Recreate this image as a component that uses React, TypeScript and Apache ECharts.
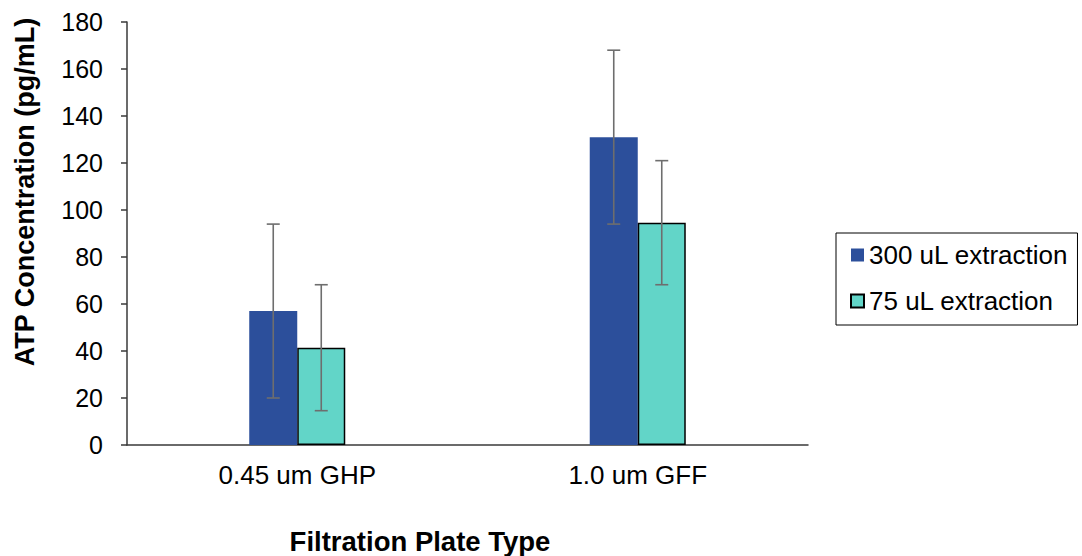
import React, { useEffect, useRef } from "react";
import * as echarts from "echarts";

// ATP concentration by filtration plate type, mean ± SD
const categories = ["0.45 um GHP", "1.0 um GFF"];
const seriesNames = ["300 uL extraction", "75 uL extraction"];
const mean300 = [57, 131];
const sd300 = [37, 37];
const mean75 = [41.4, 94.6];
const sd75 = [26.8, 26.4];
const yTicks = { min: 0, max: 180, interval: 20 };

const NAVY = "#2c4f9b";
const TEAL = "#62d5c8";
const FONT = "'Liberation Sans', Arial, Helvetica, sans-serif";
const BAR_FRACTION = 0.141;

function errorSeries(means: number[], sds: number[], side: number) {
  return {
    type: "custom",
    z: 10,
    silent: true,
    data: means.map((m, i) => [i, m - sds[i], m + sds[i]]),
    renderItem: (_params: any, api: any) => {
      const idx = api.value(0);
      const lo = api.coord([idx, api.value(1)]);
      const hi = api.coord([idx, api.value(2)]);
      const band = api.size([1, 0])[0];
      const x = lo[0] + (side * band * BAR_FRACTION) / 2;
      const cap = 6.5;
      const style = { stroke: "#6e6e6e", lineWidth: 1.6 };
      return {
        type: "group",
        children: [
          { type: "line", shape: { x1: x, y1: lo[1], x2: x, y2: hi[1] }, style },
          { type: "line", shape: { x1: x - cap, y1: hi[1], x2: x + cap, y2: hi[1] }, style },
          { type: "line", shape: { x1: x - cap, y1: lo[1], x2: x + cap, y2: lo[1] }, style },
        ],
      };
    },
  };
}

export default function App() {
  const ref = useRef<HTMLDivElement>(null);

  useEffect(() => {
    if (!ref.current) return;
    const chart = echarts.init(ref.current, undefined, { renderer: "svg" });
    chart.setOption({
      animation: false,
      backgroundColor: "#ffffff",
      grid: { left: 127, right: 274, top: 22, bottom: 111, containLabel: false },
      legend: {
        orient: "vertical",
        left: 836,
        top: 233,
        padding: [7, 9, 9, 14],
        icon: "rect",
        itemWidth: 13,
        itemHeight: 13,
        itemGap: 16,
        borderColor: "#000000",
        borderWidth: 1,
        borderRadius: 0,
        textStyle: { fontFamily: FONT, fontSize: 26, color: "#000000", lineHeight: 30 },
        data: seriesNames,
      },
      xAxis: {
        type: "category",
        data: categories,
        axisLine: { lineStyle: { color: "#3a3a3a", width: 1.5 } },
        axisTick: { show: false },
        axisLabel: { fontFamily: FONT, fontSize: 26, color: "#000000", margin: 17 },
      },
      yAxis: {
        type: "value",
        min: yTicks.min,
        max: yTicks.max,
        interval: yTicks.interval,
        axisLine: { show: true, lineStyle: { color: "#3a3a3a", width: 1.5 } },
        axisTick: { show: true, length: 6, lineStyle: { color: "#3a3a3a", width: 1.5 } },
        splitLine: { show: false },
        axisLabel: { fontFamily: FONT, fontSize: 25, color: "#000000", margin: 24 },
      },
      graphic: [
        {
          type: "text",
          x: 25,
          y: 192,
          rotation: Math.PI / 2,
          style: {
            text: "ATP Concentration (pg/mL)",
            font: `bold 27px ${FONT}`,
            fill: "#000000",
            textAlign: "center",
            textVerticalAlign: "middle",
          },
        },
        {
          type: "text",
          x: 420,
          y: 541,
          style: {
            text: "Filtration Plate Type",
            font: `bold 27.5px ${FONT}`,
            fill: "#000000",
            textAlign: "center",
            textVerticalAlign: "middle",
          },
        },
      ],
      series: [
        {
          name: seriesNames[0],
          type: "bar",
          data: mean300,
          barWidth: `${BAR_FRACTION * 100}%`,
          barGap: "0%",
          itemStyle: { color: NAVY },
        },
        {
          name: seriesNames[1],
          type: "bar",
          data: mean75,
          barWidth: `${BAR_FRACTION * 100}%`,
          barGap: "0%",
          itemStyle: { color: TEAL, borderColor: "#000000", borderWidth: 1.5 },
        },
        errorSeries(mean300, sd300, -1),
        errorSeries(mean75, sd75, 1),
      ],
    });
    return () => chart.dispose();
  }, []);

  return (
    <div
      ref={ref}
      style={{ position: "absolute", left: 0, top: 0, width: 1082, height: 556 }}
    />
  );
}
